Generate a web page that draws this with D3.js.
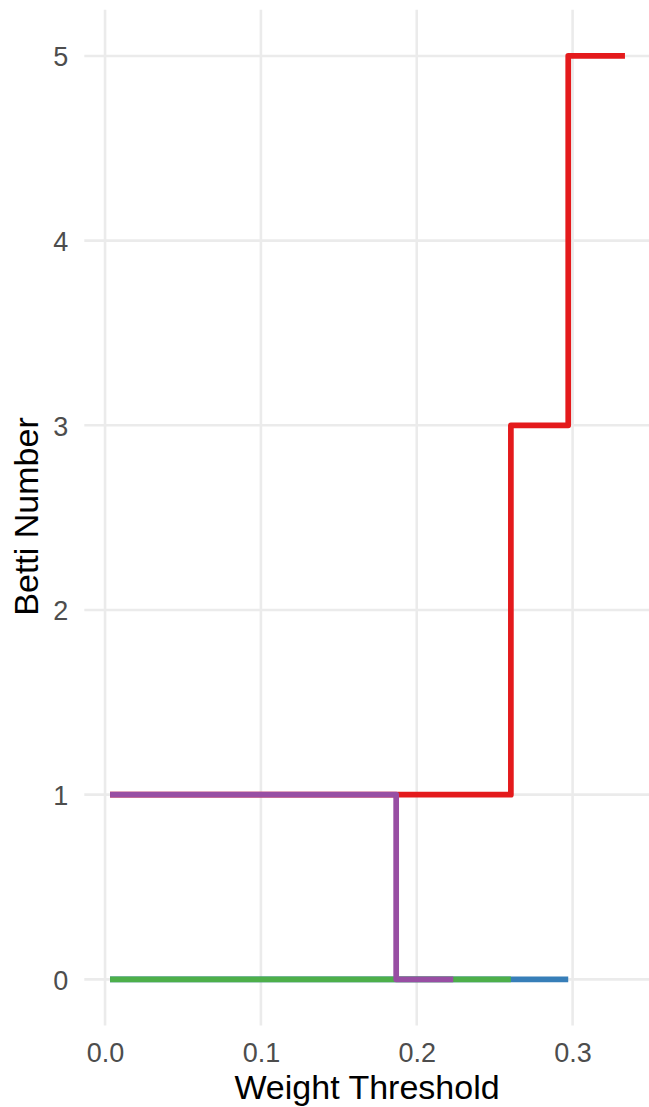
<!DOCTYPE html>
<html>
<head>
<meta charset="utf-8">
<script src="https://cdn.jsdelivr.net/npm/d3@7"></script>
<style>
  html, body { margin: 0; padding: 0; background: #ffffff; }
  svg { display: block; }
</style>
</head>
<body>
<svg id="chart" width="649" height="1107"></svg>
<script>
// ---- Data ----
const thresholds = [0.0032, 0.1868, 0.2234, 0.2604, 0.2972, 0.3336];
const seriesNames = ["red", "blue", "green", "purple"];
const redValues    = [1, 1, 1, 3, 5, 5];
const blueValues   = [0, 0, 0, 0, 0];
const greenValues  = [0, 0, 0, 0];
const purpleValues = [1, 0, 0];
const xTicks = [0.0, 0.1, 0.2, 0.3];
const xTickLabels = ["0.0", "0.1", "0.2", "0.3"];
const yTicks = [0, 1, 2, 3, 4, 5];
const xTitle = "Weight Threshold";
const yTitle = "Betti Number";

const colors = { red: "#E41A1C", blue: "#377EB8", green: "#4DAF4A", purple: "#984EA3" };
const valuesByName = { red: redValues, blue: blueValues, green: greenValues, purple: purpleValues };

// ---- Layout ----
const svg = d3.select("#chart");
const panel = { left: 84.3, right: 650.7, top: 9.8, bottom: 1025.5 };

const xMin = d3.min(thresholds), xMax = d3.max(thresholds);
const xPad = (xMax - xMin) * 0.05;
const x = d3.scaleLinear().domain([xMin - xPad, xMax + xPad]).range([panel.left, panel.right]);
const y = d3.scaleLinear().domain([-0.25, 5.25]).range([panel.bottom, panel.top]);

const font = "'Liberation Sans', Arial, Helvetica, sans-serif";

// Grid
const grid = svg.append("g");
grid.selectAll("line.h").data(yTicks).join("line")
  .attr("x1", panel.left).attr("x2", panel.right)
  .attr("y1", d => y(d)).attr("y2", d => y(d))
  .attr("stroke", "#EBEBEB").attr("stroke-width", 2.6);
grid.selectAll("line.v").data(xTicks).join("line")
  .attr("y1", panel.top).attr("y2", panel.bottom)
  .attr("x1", d => x(d)).attr("x2", d => x(d))
  .attr("stroke", "#EBEBEB").attr("stroke-width", 2.6);

// Lines
const line = d3.line()
  .x(d => x(d.t))
  .y(d => y(d.v))
  .curve(d3.curveStepAfter);

seriesNames.forEach(name => {
  const vals = valuesByName[name];
  const pts = vals.map((v, i) => ({ t: thresholds[i], v }));
  svg.append("path")
    .datum(pts)
    .attr("d", line)
    .attr("fill", "none")
    .attr("stroke", colors[name])
    .attr("stroke-width", 5.7)
    .attr("stroke-linejoin", "round")
    .attr("stroke-linecap", "butt");
});

// Axes labels
const xAxis = d3.axisBottom(x).tickValues(xTicks).tickFormat((d, i) => xTickLabels[i]).tickSize(0).tickPadding(0);
const gx = svg.append("g").attr("transform", `translate(0,${panel.bottom})`).call(xAxis);
gx.select(".domain").remove();
gx.selectAll("text")
  .attr("y", 36.2).attr("dy", null)
  .attr("fill", "#4D4D4D")
  .style("font-family", font).style("font-size", "27px");

const yAxis = d3.axisLeft(y).tickValues(yTicks).tickFormat(d3.format("d")).tickSize(0).tickPadding(0);
const gy = svg.append("g").attr("transform", `translate(${panel.left},0)`).call(yAxis);
gy.select(".domain").remove();
gy.selectAll("text")
  .attr("x", -16).attr("dy", "0.36em")
  .attr("fill", "#4D4D4D")
  .style("font-family", font).style("font-size", "27px");

// Titles
svg.append("text")
  .attr("x", 367).attr("y", 1099.3)
  .attr("text-anchor", "middle")
  .attr("fill", "#000000")
  .style("font-family", font).style("font-size", "34px")
  .text(xTitle);

svg.append("text")
  .attr("transform", "translate(38.3,516.5) rotate(-90)")
  .attr("text-anchor", "middle")
  .attr("fill", "#000000")
  .style("font-family", font).style("font-size", "34px")
  .text(yTitle);
</script>
</body>
</html>
